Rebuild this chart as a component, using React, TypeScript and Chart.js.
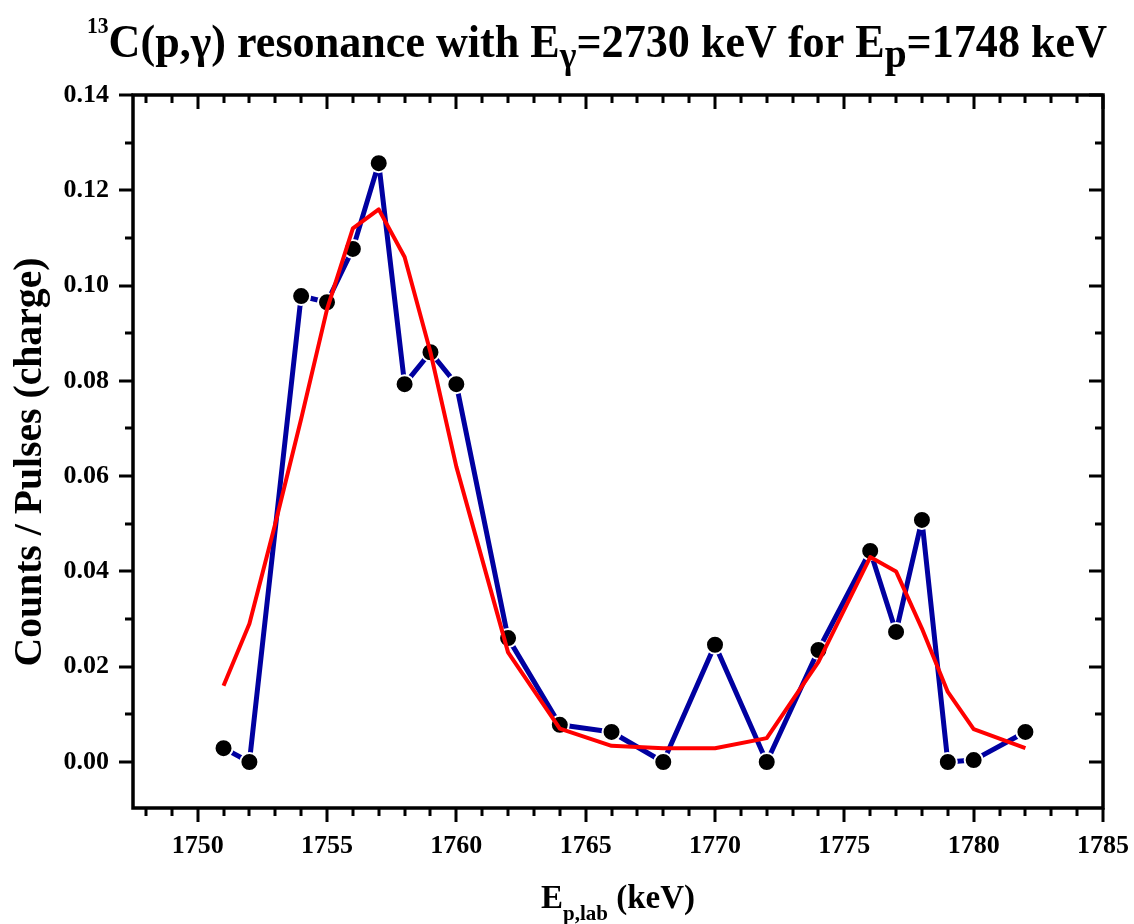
import React, { useEffect, useRef } from 'react';
import { Chart, registerables } from 'chart.js';

Chart.register(...registerables);

// ---- data ----
const energies = [1751, 1752, 1754, 1755, 1756, 1757, 1758, 1759, 1760, 1762, 1764, 1766, 1768, 1770, 1772, 1774, 1776, 1777, 1778, 1779, 1780, 1782];
const counts = [0.0029, 0.0, 0.0978, 0.0965, 0.1077, 0.1257, 0.0793, 0.086, 0.0793, 0.026, 0.0078, 0.0063, 0.0, 0.0246, 0.0, 0.0235, 0.0443, 0.0273, 0.0508, 0.0, 0.0004, 0.0063];

const fitEnergies = [1751, 1752, 1753, 1754, 1755, 1756, 1757, 1758, 1759, 1760, 1762, 1764, 1766, 1768, 1770, 1772, 1774, 1776, 1777, 1778, 1779, 1780, 1782];
const fitValues = [0.016, 0.029, 0.05, 0.072, 0.095, 0.112, 0.116, 0.106, 0.086, 0.062, 0.023, 0.007, 0.0034, 0.0029, 0.0029, 0.005, 0.021, 0.043, 0.04, 0.028, 0.0147, 0.0069, 0.0029];

const xMajorTicks = [1750, 1755, 1760, 1765, 1770, 1775, 1780, 1785];
const xMinorTicks = [1748, 1749, 1751, 1752, 1753, 1754, 1756, 1757, 1758, 1759, 1761, 1762, 1763, 1764, 1766, 1767, 1768, 1769, 1771, 1772, 1773, 1774, 1776, 1777, 1778, 1779, 1781, 1782, 1783, 1784];
const yMajorTicks = [0.0, 0.02, 0.04, 0.06, 0.08, 0.1, 0.12, 0.14];
const yMinorTicks = [0.01, 0.03, 0.05, 0.07, 0.09, 0.11, 0.13];

const X_MIN = 1747.5;
const X_MAX = 1785;
const Y_MIN = -0.00966;
const Y_MAX = 0.14;

const SERIF = '"Liberation Serif", "Times New Roman", serif';

type Seg = { t: string; size: number; dy: number };

function segWidth(ctx: CanvasRenderingContext2D, segs: Seg[]) {
  let w = 0;
  for (const s of segs) {
    ctx.font = `bold ${s.size}px ${SERIF}`;
    w += ctx.measureText(s.t).width;
  }
  return w;
}

function drawSegs(ctx: CanvasRenderingContext2D, segs: Seg[]) {
  let x = 0;
  for (const s of segs) {
    ctx.font = `bold ${s.size}px ${SERIF}`;
    ctx.fillText(s.t, x, s.dy);
    x += ctx.measureText(s.t).width;
  }
}

const titleSegs: Seg[] = [
  { t: '13', size: 23, dy: -24 },
  { t: 'C(p,γ) resonance with E', size: 47, dy: 0 },
  { t: 'γ', size: 38, dy: 11 },
  { t: '=2730 keV for E', size: 47, dy: 0 },
  { t: 'p', size: 42, dy: 10 },
  { t: '=1748 keV', size: 47, dy: 0 },
];

const xTitleSegs: Seg[] = [
  { t: 'E', size: 33, dy: 0 },
  { t: 'p,lab', size: 21, dy: 12 },
  { t: ' (keV)', size: 33, dy: 0 },
];

const yTitleSegs: Seg[] = [{ t: 'Counts / Pulses (charge)', size: 39, dy: 0 }];

const textPlugin = {
  id: 'texts',
  afterDraw(chart: any) {
    const ctx: CanvasRenderingContext2D = chart.ctx;
    const area = chart.chartArea;
    ctx.save();
    ctx.fillStyle = '#000';
    ctx.textBaseline = 'alphabetic';
    ctx.textAlign = 'left';

    // main title
    const tw = segWidth(ctx, titleSegs);
    const tTarget = 1020;
    ctx.save();
    ctx.translate(87, 57);
    ctx.scale(tTarget / tw, 1);
    drawSegs(ctx, titleSegs);
    ctx.restore();

    // x title
    const xw = segWidth(ctx, xTitleSegs);
    ctx.save();
    ctx.translate((area.left + area.right) / 2 - xw / 2, 908);
    drawSegs(ctx, xTitleSegs);
    ctx.restore();

    // y title
    const yw = segWidth(ctx, yTitleSegs);
    const yTarget = 409;
    ctx.save();
    ctx.translate(41, 462);
    ctx.rotate(-Math.PI / 2);
    ctx.scale(yTarget / yw, 1);
    ctx.translate(-yw / 2, 0);
    drawSegs(ctx, yTitleSegs);
    ctx.restore();

    ctx.restore();
  },
};

const framePlugin = {
  id: 'frame',
  afterDatasetsDraw(chart: any) {
    const ctx: CanvasRenderingContext2D = chart.ctx;
    const { left, right, top, bottom } = chart.chartArea;
    const xs = chart.scales.x;
    const ys = chart.scales.y;
    ctx.save();
    ctx.strokeStyle = '#000';
    ctx.lineWidth = 3.5;
    ctx.lineCap = 'butt';
    ctx.strokeRect(left, top, right - left, bottom - top);
    const MAJ = 14;
    const MIN = 8;
    ctx.lineWidth = 3;
    ctx.beginPath();
    const xt = (v: number, len: number) => {
      const p = Math.round(xs.getPixelForValue(v));
      ctx.moveTo(p, bottom);
      ctx.lineTo(p, bottom + len);
      ctx.moveTo(p, top);
      ctx.lineTo(p, top + len);
    };
    const yt = (v: number, len: number) => {
      const p = Math.round(ys.getPixelForValue(v));
      ctx.moveTo(left, p);
      ctx.lineTo(left - len, p);
      ctx.moveTo(right, p);
      ctx.lineTo(right - len, p);
    };
    xMajorTicks.forEach((v) => xt(v, MAJ));
    xMinorTicks.forEach((v) => xt(v, MIN));
    yMajorTicks.forEach((v) => yt(v, MAJ));
    yMinorTicks.forEach((v) => yt(v, MIN));
    ctx.stroke();
    ctx.restore();
  },
};

const zeroPad = (s: any) => {
  s.paddingLeft = 0;
  s.paddingRight = 0;
  s.paddingTop = 0;
  s.paddingBottom = 0;
};

export default function App() {
  const canvasRef = useRef<HTMLCanvasElement | null>(null);

  useEffect(() => {
    const canvas = canvasRef.current;
    if (!canvas) return;
    const tickFont = { family: SERIF, size: 26, weight: 'bold' as const };
    const chart = new Chart(canvas, {
      type: 'line',
      data: {
        datasets: [
          {
            label: 'fit',
            data: fitEnergies.map((x, i) => ({ x, y: fitValues[i] })),
            borderColor: '#FF0000',
            borderWidth: 4,
            borderJoinStyle: 'round',
            pointRadius: 0,
            fill: false,
            tension: 0,
            order: 0,
          },
          {
            label: 'data',
            data: energies.map((x, i) => ({ x, y: counts[i] })),
            borderColor: '#0000A0',
            borderWidth: 5,
            borderJoinStyle: 'round',
            pointRadius: 9,
            pointBackgroundColor: '#000',
            pointBorderColor: '#fff',
            pointBorderWidth: 2,
            fill: false,
            tension: 0,
            order: 1,
          },
        ],
      },
      options: {
        animation: false,
        responsive: false,
        maintainAspectRatio: false,
        events: [],
        layout: { padding: { top: 95, right: 31, left: 0, bottom: 0 } },
        plugins: {
          legend: { display: false },
          tooltip: { enabled: false },
          title: { display: false },
        },
        scales: {
          x: {
            type: 'linear',
            position: 'bottom',
            min: X_MIN,
            max: X_MAX,
            grid: { display: false, drawTicks: false },
            border: { display: false },
            afterBuildTicks: (s: any) => {
              s.ticks = xMajorTicks.map((v) => ({ value: v }));
            },
            afterFit: (s: any) => {
              s.height = 116;
              zeroPad(s);
            },
            ticks: {
              font: tickFont,
              color: '#000',
              padding: 23,
              maxRotation: 0,
              autoSkip: false,
              callback: (v: any) => String(v),
            },
          },
          y: {
            type: 'linear',
            position: 'left',
            min: Y_MIN,
            max: Y_MAX,
            grid: { display: false, drawTicks: false },
            border: { display: false },
            afterBuildTicks: (s: any) => {
              s.ticks = yMajorTicks.map((v) => ({ value: v }));
            },
            afterFit: (s: any) => {
              s.width = 133;
              zeroPad(s);
            },
            ticks: {
              font: tickFont,
              color: '#000',
              padding: 24,
              autoSkip: false,
              callback: (v: any) => Number(v).toFixed(2),
            },
          },
        },
      },
      plugins: [framePlugin, textPlugin],
    });
    return () => chart.destroy();
  }, []);

  return (
    <div style={{ position: 'fixed', left: 0, top: 0, width: 1134, height: 924, background: '#fff' }}>
      <canvas ref={canvasRef} width={1134} height={924} style={{ width: 1134, height: 924, display: 'block' }} />
    </div>
  );
}
